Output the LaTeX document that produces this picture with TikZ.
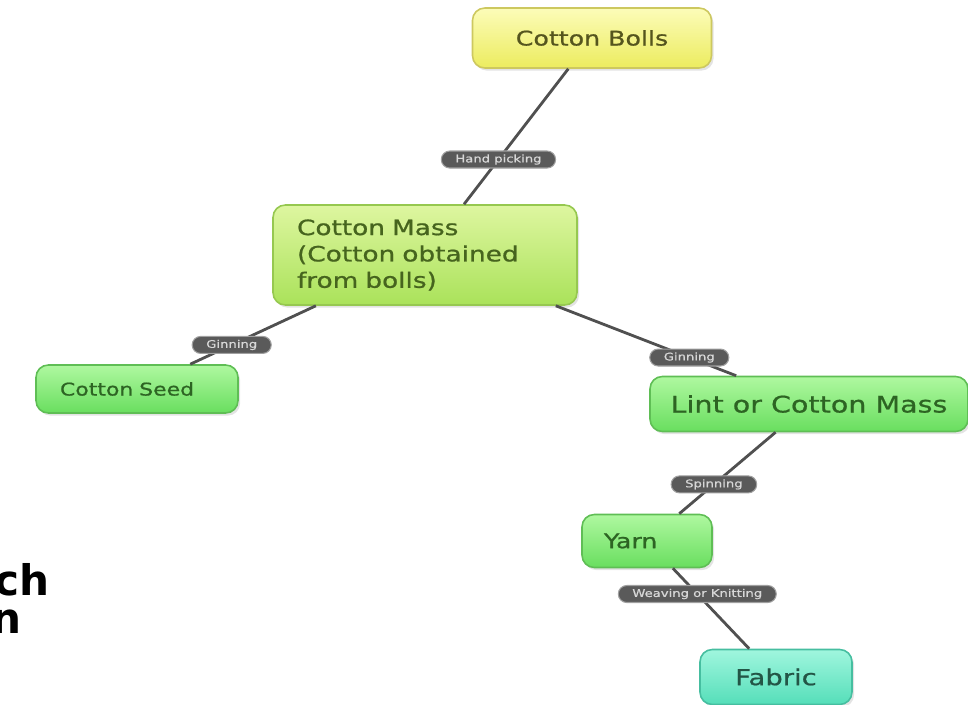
\documentclass[tikz,border=0pt]{standalone}
\usepackage{fontspec}
\setmainfont{DejaVu Sans}[FakeStretch=1.25, FakeBold=0.8]
\newfontfamily\slidefont{DejaVu Sans}
\usetikzlibrary{shadows}

\definecolor{linkgray}{RGB}{80,80,80}
\definecolor{pillgray}{RGB}{90,90,90}
\definecolor{pillrim}{RGB}{160,160,160}
\definecolor{pilltext}{RGB}{215,215,215}

\tikzset{
	concept/.style={draw, rounded corners=7pt, line width=0.9pt, align=center,
		drop shadow={opacity=0.22, shadow xshift=1.2pt, shadow yshift=-1.5pt}},
	bollbox/.style={concept, draw={rgb,255:red,205;green,200;blue,95},
		top color={rgb,255:red,252;green,252;blue,185}, bottom color={rgb,255:red,236;green,236;blue,95},
		text={rgb,255:red,85;green,85;blue,30}},
	massbox/.style={concept, draw={rgb,255:red,150;green,200;blue,80},
		top color={rgb,255:red,222;green,246;blue,160}, bottom color={rgb,255:red,170;green,226;blue,90},
		text={rgb,255:red,70;green,100;blue,30}},
	greenbox/.style={concept, draw={rgb,255:red,95;green,190;blue,85},
		top color={rgb,255:red,175;green,248;blue,160}, bottom color={rgb,255:red,105;green,222;blue,95},
		text={rgb,255:red,45;green,100;blue,35}},
	cyanbox/.style={concept, draw={rgb,255:red,70;green,190;blue,160},
		top color={rgb,255:red,160;green,246;blue,222}, bottom color={rgb,255:red,85;green,222;blue,185},
		text={rgb,255:red,35;green,85;blue,70}},
	link/.style={line width=1.6pt, draw=linkgray},
	linkname/.style={fill=pillgray, draw=pillrim, line width=0.6pt, text=pilltext,
		rounded corners=4.8pt, font=\fontsize{6}{7}\selectfont, inner xsep=8pt,
		inner ysep=0pt, minimum height=0.34cm},
	slidetext/.style={font=\slidefont\fontsize{24}{30}\selectfont\bfseries, inner sep=0pt}
}

\begin{document}
\begin{tikzpicture}[x=0.02cm, y=-0.02cm]
	\useasboundingbox (0,0) rectangle (968,705);
	%\draw[very thin,color=gray] (0,0) grid[step=50] (968,705);

	% the concepts
	\node[bollbox, minimum width=4.78cm, minimum height=1.2cm, font=\fontsize{11.5}{14}\selectfont] (bolls) at (592,38) {Cotton Bolls};
	\node[massbox, align=left, text width=5.12cm, inner xsep=0.48cm, minimum height=2cm, font=\fontsize{12}{15}\selectfont] (mass) at (425,255) {Cotton Mass\\(Cotton obtained\\from bolls)};
	\node[greenbox, align=left, text width=3.08cm, inner xsep=0.48cm, minimum height=0.96cm, font=\fontsize{10}{12}\selectfont] (seed) at (137,389) {Cotton Seed};
	\node[greenbox, minimum width=6.36cm, minimum height=1.1cm, font=\fontsize{13}{15}\selectfont] (lint) at (809,404) {Lint or Cotton Mass};
	\node[greenbox, align=left, text width=1.72cm, inner xsep=0.44cm, minimum height=1.06cm, font=\fontsize{11.5}{14}\selectfont] (yarn) at (647,541) {Yarn};
	\node[cyanbox, minimum width=3.04cm, minimum height=1.1cm, font=\fontsize{12.5}{15}\selectfont] (fabric) at (776,677) {Fabric};

	% the links
	\draw[link] (bolls) -- (mass) node[linkname, pos=0.67] {Hand picking};
	\draw[link] (mass) -- (seed) node[linkname, pos=0.67] {Ginning};
	\draw[link] (mass) -- (lint) node[linkname, pos=0.74] {Ginning};
	\draw[link] (lint) -- (yarn) node[linkname, pos=0.64] {Spinning};
	\draw[link] (yarn) -- (fabric) node[linkname, pos=0.32] {Weaving or Knitting};

	% left over from the slide
	\node[slidetext, anchor=base east] (ch) at (50,596) {ch};
	\node[slidetext, anchor=base east] (n) at (22,634) {n};
\end{tikzpicture}
\end{document}
